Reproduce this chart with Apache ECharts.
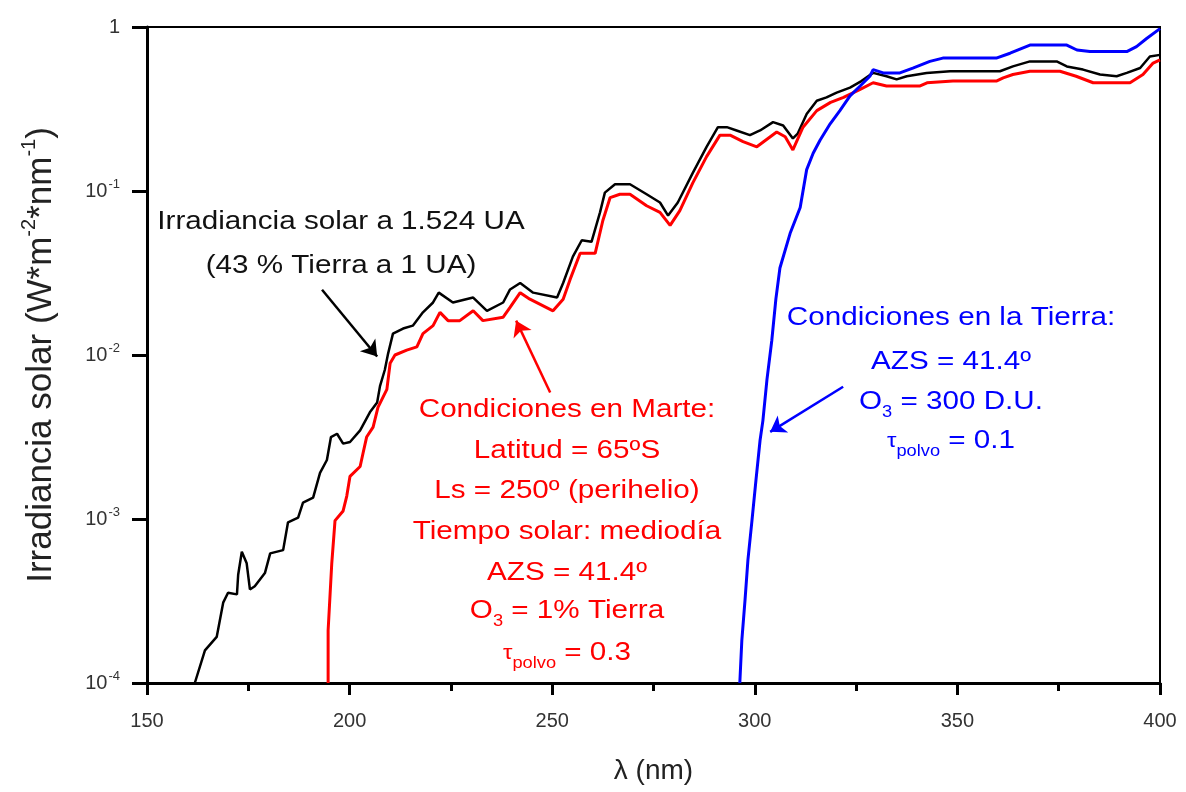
<!DOCTYPE html>
<html>
<head>
<meta charset="utf-8">
<script src="https://cdn.jsdelivr.net/npm/echarts@6/dist/echarts.min.js"></script>
<style>
  html, body { margin: 0; padding: 0; background: #fff; }
  #chart { width: 1186px; height: 792px; }
</style>
</head>
<body>
<div id="chart"></div>
<script>
// Wavelength (nm) and spectral irradiance (W m^-2 nm^-1)
const solarWl = [161.8,164.3,167.2,168.8,170.0,172.2,172.5,173.4,174.6,175.4,176.6,179.1,180.4,183.6,184.8,187.3,188.5,191.0,192.7,194.4,195.4,196.9,198.4,200.1,202.6,205.0,206.8,207.5,208.7,209.5,210.7,213.2,215.6,218.1,220.6,222.0,225.5,230.5,233.9,237.9,239.6,242.1,245.3,251.2,252.7,255.1,257.3,259.7,261.8,263.0,265.5,269.2,273.3,276.6,278.6,281.0,284.7,288.1,290.9,293.1,295.5,298.8,301.3,304.5,307.0,309.4,310.6,312.8,315.3,317.7,320.2,323.5,326.3,329.2,332.5,335.0,337.5,342.4,348.2,360.5,363.7,367.9,374.5,377.0,381.0,385.2,389.3,391.8,395.1,397.5,400.0];
const solarIrr = [1.0e-4,1.58e-4,1.91e-4,3.09e-4,3.55e-4,3.47e-4,4.57e-4,6.31e-4,5.37e-4,3.72e-4,3.89e-4,4.68e-4,6.17e-4,6.46e-4,9.55e-4,1.02e-3,1.26e-3,1.35e-3,1.91e-3,2.29e-3,3.16e-3,3.31e-3,2.88e-3,2.95e-3,3.47e-3,4.47e-3,5.13e-3,6.46e-3,8.13e-3,1.02e-2,1.35e-2,1.45e-2,1.51e-2,1.82e-2,2.09e-2,2.40e-2,2.09e-2,2.24e-2,1.86e-2,2.09e-2,2.51e-2,2.75e-2,2.40e-2,2.24e-2,2.75e-2,3.98e-2,5.01e-2,4.90e-2,7.41e-2,9.77e-2,0.110,0.110,0.0955,0.0851,0.0708,0.0851,0.129,0.186,0.245,0.245,0.234,0.219,0.234,0.263,0.251,0.209,0.224,0.295,0.355,0.372,0.398,0.427,0.468,0.525,0.501,0.479,0.501,0.525,0.537,0.537,0.575,0.617,0.617,0.575,0.550,0.513,0.501,0.525,0.562,0.661,0.676];

const marsWl = [194.7,194.7,195.6,196.4,198.4,199.3,200.1,202.6,203.3,204.2,205.8,207.0,209.2,210.0,211.2,214.1,216.6,218.1,220.6,222.3,224.3,227.2,230.5,232.9,237.9,239.6,242.1,244.5,250.2,252.7,254.4,256.9,260.6,262.5,264.3,266.7,269.2,273.3,276.6,279.1,281.5,284.7,288.1,291.4,293.9,297.1,300.5,305.4,307.5,309.4,311.9,315.3,318.7,321.9,326.0,329.2,332.5,340.8,342.5,348.9,359.6,361.3,363.7,367.9,375.3,379.3,383.5,392.6,395.8,398.3,400.0];
const marsIrr = [1.0e-4,2.09e-4,5.37e-4,9.77e-4,1.12e-3,1.38e-3,1.82e-3,2.09e-3,2.51e-3,3.16e-3,3.63e-3,4.79e-3,6.17e-3,8.91e-3,1.00e-2,1.07e-2,1.12e-2,1.35e-2,1.51e-2,1.82e-2,1.62e-2,1.62e-2,1.86e-2,1.62e-2,1.70e-2,1.95e-2,2.40e-2,2.19e-2,1.86e-2,2.19e-2,2.88e-2,4.17e-2,4.17e-2,6.61e-2,9.12e-2,9.55e-2,9.55e-2,8.13e-2,7.41e-2,6.17e-2,7.59e-2,0.112,0.162,0.219,0.219,0.200,0.186,0.229,0.214,0.178,0.245,0.309,0.347,0.372,0.417,0.457,0.437,0.437,0.457,0.468,0.468,0.490,0.513,0.537,0.537,0.501,0.457,0.457,0.513,0.603,0.631];

const earthWl = [296.3,296.8,297.6,298.3,299.3,300.3,301.3,302.0,303.0,304.2,305.2,306.2,308.7,311.2,312.8,314.4,316.1,318.6,321.0,323.5,326.0,328.4,329.2,331.7,335.8,339.0,343.2,346.4,359.6,363.0,367.9,377.0,379.5,382.7,391.8,394.2,396.7,400.0];
const earthIrr = [1.0e-4,1.82e-4,3.24e-4,5.62e-4,9.77e-4,1.74e-3,3.02e-3,3.98e-3,7.08e-3,1.23e-2,2.19e-2,3.39e-2,5.50e-2,7.94e-2,0.135,0.170,0.204,0.257,0.309,0.380,0.437,0.501,0.550,0.525,0.525,0.562,0.617,0.646,0.646,0.692,0.776,0.776,0.724,0.708,0.708,0.759,0.851,0.977];

// Axis ranges and tick spacing
const xMin = 150, xMax = 400, xStep = 50;
const yMin = 1e-4, yMax = 1;

// Annotation texts
const solarNote = ['Irradiancia solar a 1.524 UA', '(43 % Tierra a 1 UA)'];
const marsNote = ['Condiciones en Marte:', 'Latitud = 65ºS', 'Ls = 250º (perihelio)',
  'Tiempo solar: mediodía', 'AZS = 41.4º', 'O{sub|3} = 1% Tierra', '{tau|τ}{sub|polvo} = 0.3'];
const earthNote = ['Condiciones en la Tierra:', 'AZS = 41.4º', 'O{sub|3} = 300 D.U.', '{tau|τ}{sub|polvo} = 0.1'];

// Arrow endpoints [wavelength, irradiance]
const solarArrow = [[193.2, 0.025], [206.8, 0.0098]];
const marsArrow = [[249.5, 0.0059], [241.1, 0.0162]];
const earthArrow = [[321.8, 0.0064], [303.8, 0.0034]];

const zip = (a, b) => a.map((v, i) => [v, b[i]]);

const FONT = "Liberation Sans";

const richBase = (color) => ({
  sub: { fontSize: 16, fontFamily: FONT, fill: color, color: color, verticalAlign: 'bottom', lineHeight: 38 },
  tau: { fontSize: 21, fontFamily: FONT, fill: color, color: color, lineHeight: 30 }
});

// Centered annotation lines, slightly widened like the original typesetting
function noteBlock(lines, cx, ys, color) {
  return lines.map((t, i) => ({
    type: 'text',
    x: cx, y: ys[i],
    scaleX: 1.14,
    z: 100,
    style: {
      text: t,
      fill: color,
      fontSize: 26,
      fontFamily: FONT,
      align: 'center',
      verticalAlign: 'middle',
      rich: richBase(color)
    }
  }));
}

function arrowLine(pts) {
  return [{ coord: pts[0] }, { coord: pts[1] }];
}

const chart = echarts.init(document.getElementById('chart'), null, { renderer: 'canvas' });

const graphics = []
  .concat(noteBlock(solarNote, 341, [222, 266], '#111'))
  .concat(noteBlock(marsNote, 567, [410, 451, 491, 532, 573, 611, 653], '#ff0000'))
  .concat(noteBlock(earthNote, 951, [318, 362, 402, 441], '#0000ff'));

chart.setOption({
  animation: false,
  backgroundColor: '#fff',
  grid: { left: 147, right: 26, top: 27, bottom: 109, show: true, borderColor: '#000', borderWidth: 2, backgroundColor: 'transparent' },
  xAxis: {
    type: 'value', min: xMin, max: xMax, interval: xStep,
    name: 'λ (nm)', nameLocation: 'middle', nameGap: 74,
    nameTextStyle: { fontSize: 28, color: '#222', fontFamily: FONT },
    axisLine: { show: true, onZero: false, lineStyle: { color: '#000', width: 3 } },
    axisTick: { show: true, inside: false, length: 12, lineStyle: { color: '#000', width: 3 } },
    minorTick: { show: true, splitNumber: 2, length: 8, lineStyle: { color: '#000', width: 3 } },
    axisLabel: { margin: 28, fontSize: 20, color: '#333', fontFamily: FONT },
    splitLine: { show: false }
  },
  yAxis: {
    type: 'log', logBase: 10, min: yMin, max: yMax,
    name: 'Irradiancia solar (W*m{sup|-2}*nm{sup|-1})', nameLocation: 'middle', nameGap: 84,
    nameTextStyle: {
      fontSize: 35, color: '#222', fontFamily: FONT,
      rich: { sup: { fontSize: 20, verticalAlign: 'top', lineHeight: 44, fontFamily: FONT, color: '#222' } }
    },
    axisLine: { show: true, onZero: false, lineStyle: { color: '#000', width: 3 } },
    axisTick: { show: true, inside: false, length: 15, lineStyle: { color: '#000', width: 3 } },
    minorTick: { show: false },
    axisLabel: {
      margin: 27, fontSize: 20, color: '#333', fontFamily: FONT,
      formatter: (v) => {
        const e = Math.round(Math.log10(v));
        return e === 0 ? '1' : '10{sup|' + e + '}';
      },
      rich: { sup: { fontSize: 13, verticalAlign: 'top', lineHeight: 26, fontFamily: FONT, color: '#333', padding: [0, 0, 0, 1] } }
    },
    splitLine: { show: false }
  },
  series: [
    {
      name: 'Irradiancia solar a 1.524 UA', type: 'line', data: zip(solarWl, solarIrr),
      showSymbol: false, z: 3,
      lineStyle: { color: '#000', width: 2.5 },
      markLine: { silent: true, symbol: ['none', 'arrow'], symbolSize: 15, label: { show: false },
        lineStyle: { color: '#000', width: 2.5, type: 'solid' }, data: [arrowLine(solarArrow)] }
    },
    {
      name: 'Condiciones en Marte', type: 'line', data: zip(marsWl, marsIrr),
      showSymbol: false, z: 4,
      lineStyle: { color: '#ff0000', width: 3 },
      markLine: { silent: true, symbol: ['none', 'arrow'], symbolSize: 15, label: { show: false },
        lineStyle: { color: '#ff0000', width: 2.5, type: 'solid' }, data: [arrowLine(marsArrow)] }
    },
    {
      name: 'Condiciones en la Tierra', type: 'line', data: zip(earthWl, earthIrr),
      showSymbol: false, z: 5,
      lineStyle: { color: '#0000ff', width: 3 },
      markLine: { silent: true, symbol: ['none', 'arrow'], symbolSize: 15, label: { show: false },
        lineStyle: { color: '#0000ff', width: 2.5, type: 'solid' }, data: [arrowLine(earthArrow)] }
    }
  ],
  graphic: graphics
});
</script>
</body>
</html>
